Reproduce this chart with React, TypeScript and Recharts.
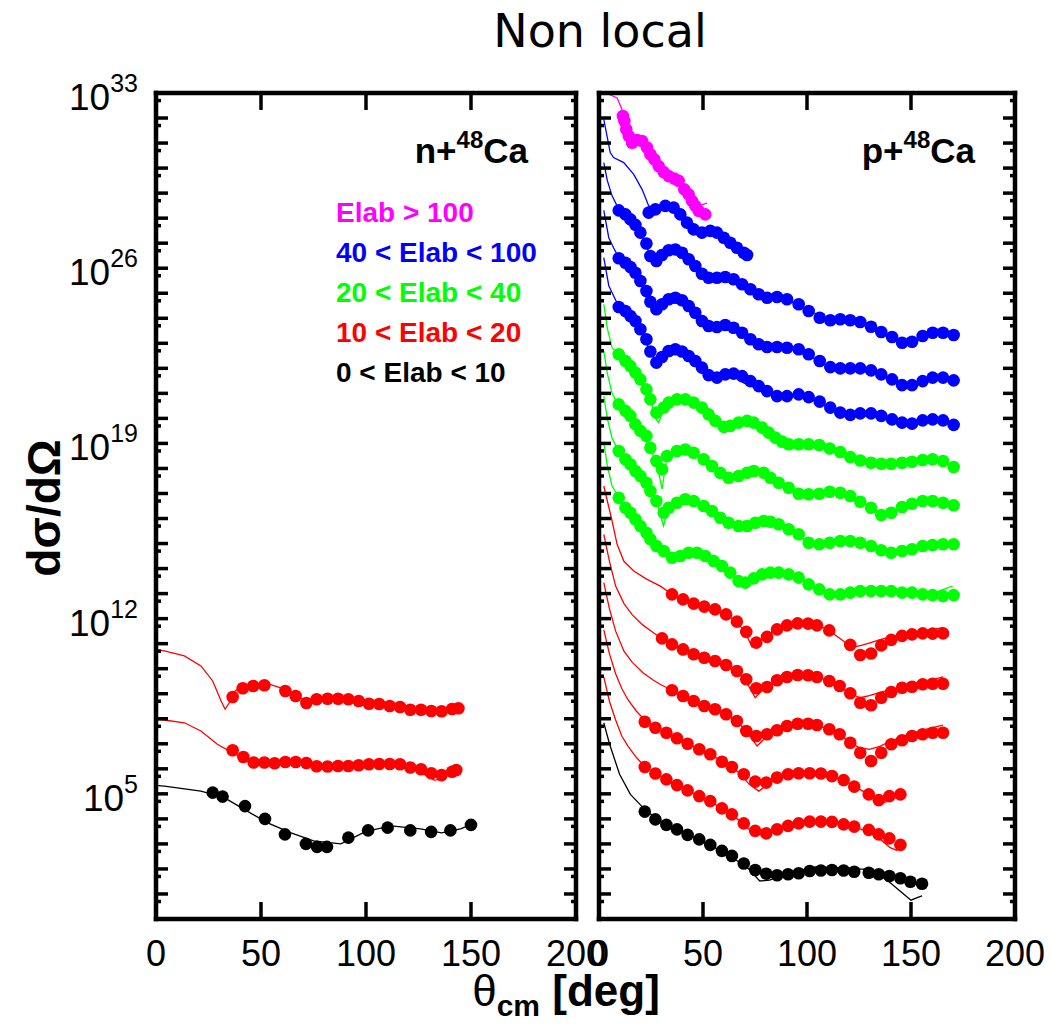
import { ComposedChart, Line, Scatter, XAxis, YAxis } from 'recharts'

const MAGENTA = '#ff00ff'
const BLUE = '#0000ff'
const GREEN = '#00ff00'
const RED = '#ff0000'
const BLACK = '#000000'

const SANS = '"Liberation Sans", Arial, sans-serif'

// values are read as exponents (log10 of dσ/dΩ); angles in degrees
// theory curves are [angle, exponent] pairs

// ---- n+48Ca ----
const nRedHiDeg = [36.5, 41.3, 46.3, 51.6, 61.6, 66.5, 71.6, 76.5, 81.7, 86.7, 91.6, 96.5, 101.4, 106.3, 111.3, 116.2, 121.1, 126.2, 131.1, 136, 141, 144]
const nRedHiExp = [8.87, 9.22, 9.31, 9.34, 9.11, 8.91, 8.63, 8.78, 8.8, 8.8, 8.78, 8.71, 8.6, 8.59, 8.51, 8.47, 8.36, 8.36, 8.31, 8.3, 8.39, 8.42]
const nRedHiCurve = [[1, 10.75], [4, 10.71], [13.5, 10.51], [21.4, 10.11], [27, 9.51], [31, 8.71], [32.9, 8.38], [34.9, 8.64], [36.5, 9.04], [41.3, 9.31], [51.6, 9.44], [61.3, 9.18], [66.5, 8.95], [71.6, 8.7], [76.5, 8.76], [86.7, 8.79], [96.5, 8.7], [106.3, 8.58], [116.2, 8.46], [126.2, 8.36], [136, 8.3], [144, 8.42]]

const nRedLoDeg = [36.5, 41.6, 46.5, 51.6, 56.5, 61.6, 66.5, 71.6, 76.5, 81.7, 86.7, 91.6, 96.5, 101.4, 106.3, 111.3, 116.2, 121.1, 126.2, 131.1, 136, 141, 143]
const nRedLoExp = [6.74, 6.47, 6.25, 6.25, 6.22, 6.27, 6.27, 6.23, 6.1, 6.09, 6.11, 6.11, 6.14, 6.18, 6.19, 6.19, 6.18, 6.05, 5.98, 5.82, 5.75, 5.88, 5.95]
const nRedLoCurve = [[1, 7.97], [4, 7.95], [13.5, 7.84], [21.4, 7.51], [29.2, 6.98], [36.5, 6.64], [42, 6.42], [46.5, 6.33], [56.5, 6.3], [66.5, 6.28], [76.5, 6.15], [91.6, 6.12], [106.3, 6.18], [116.2, 6.15], [121.1, 6.02], [126.2, 5.85], [132.5, 5.55], [135.7, 5.58], [141, 5.85], [143, 5.95]]

const nBlackDeg = [27, 31.7, 42.4, 51.9, 61.4, 71.4, 76.7, 81.4, 91.6, 101, 110.3, 121.1, 131, 140.2, 150]
const nBlackExp = [5.05, 4.89, 4.51, 4.0, 3.38, 3.0, 2.88, 2.88, 3.25, 3.54, 3.65, 3.54, 3.48, 3.54, 3.76]
const nBlackCurve = [[1, 5.33], [4, 5.31], [21.4, 5.11], [32.5, 4.85], [42, 4.38], [52.9, 3.85], [64, 3.45], [75, 3.12], [88, 3.0], [100, 3.5], [112, 3.72], [126, 3.6], [136, 3.44], [145, 3.6], [152, 3.84]]

// ---- p+48Ca ----
const pMagDeg = [11.5, 12.2, 13.1, 14.3, 15.9, 18.3, 20.7, 23.1, 24.7, 26.6, 28.7, 31.1, 33.5, 36.2, 38.3, 41, 43.1, 44.7, 46.3, 47.9, 51.1]
const pMagExp = [32.08, 31.88, 31.55, 31.28, 31.01, 31.12, 31.08, 30.82, 30.55, 30.35, 30.08, 29.84, 29.68, 29.58, 29.49, 29.15, 28.95, 28.69, 28.49, 28.29, 28.15]
const pMagCurve = [[4.7, 32.95], [8.7, 32.8], [11, 32.35], [13, 31.6], [16, 31.05], [20, 31.1], [24, 30.6], [28, 30.15], [32, 29.8], [36, 29.6], [40, 29.2], [44, 28.8], [48, 28.5], [52, 28.6]]

const pB1Deg = [23.9, 27.1, 31.9, 35.9, 39.1, 42.3, 45.5, 49.5, 53.5, 56.7, 60, 63.1, 66.3, 69.6, 71.2]
const pB1Exp = [28.22, 28.35, 28.49, 28.42, 28.15, 27.82, 27.55, 27.42, 27.49, 27.42, 27.22, 27.02, 26.82, 26.62, 26.53]
const pB1Curve = [[2.3, 31.95], [5.4, 30.62], [7, 30.42], [11.9, 30.22], [16.7, 29.75], [20.7, 29.15], [23.9, 28.49], [27, 28.4], [32, 28.5], [36, 28.4], [40, 28.1], [45, 27.6], [50, 27.45], [54, 27.5], [58, 27.35], [62, 27.15], [66, 26.95], [71, 26.65]]

const pBlueDeg = [9.5, 12.7, 15.1, 17.5, 19.9, 22.8, 24.7, 27.6, 30.3, 33.5, 36.7, 39.9, 43.1, 46.3, 49.5, 52.7, 56.7, 60.7, 64.7, 68.8, 72.8, 76.8, 80.8, 85.6, 90.4, 96, 100.8, 106.1, 111.2, 116, 120.8, 125.6, 130.8, 135.7, 140.9, 145.7, 150.5, 155.6, 160.4, 165.4, 170.5]
const pB2Exp = [28.31, 28.15, 27.95, 27.73, 27.42, 26.99, 26.49, 26.29, 26.53, 26.72, 26.75, 26.62, 26.36, 26.09, 25.78, 25.62, 25.62, 25.65, 25.56, 25.36, 25.16, 24.96, 24.82, 24.85, 24.76, 24.56, 24.29, 24.02, 23.92, 23.96, 23.92, 23.85, 23.66, 23.45, 23.25, 23.02, 23.06, 23.29, 23.42, 23.42, 23.33]
const pB3Exp = [26.4, 26.22, 26.05, 25.82, 25.49, 25.09, 24.66, 24.36, 24.56, 24.76, 24.82, 24.72, 24.49, 24.22, 23.89, 23.69, 23.65, 23.73, 23.62, 23.42, 23.16, 22.96, 22.85, 22.85, 22.82, 22.76, 22.56, 22.29, 22.05, 22.0, 22.0, 22.0, 21.92, 21.76, 21.56, 21.33, 21.33, 21.49, 21.63, 21.63, 21.52]
const pB4Exp = [24.45, 24.29, 24.09, 23.89, 23.56, 23.16, 22.67, 22.23, 22.45, 22.69, 22.76, 22.67, 22.49, 22.29, 22.03, 21.73, 21.63, 21.76, 21.79, 21.69, 21.49, 21.29, 21.09, 20.89, 20.89, 20.96, 20.85, 20.67, 20.43, 20.23, 20.14, 20.2, 20.2, 20.1, 19.96, 19.83, 19.79, 19.92, 19.96, 19.92, 19.74]
const pB2Curve = [[2.3, 30.22], [4, 29.5], [6.3, 28.89], [9.5, 28.35], [15, 27.95], [20, 27.4], [24.7, 26.5], [27.2, 26.2], [30, 26.5], [35, 26.75], [40, 26.62], [45, 26.2], [50, 25.75], [55, 25.62], [60, 25.65], [65, 25.55], [70, 25.3], [80, 24.85], [90, 24.75], [100, 24.35], [110, 23.95], [120, 23.92], [130, 23.7], [140, 23.3], [148, 23.0], [152, 23.05], [160, 23.4], [170, 23.35]]
const pB3Curve = [[2.3, 28.31], [4.7, 27.22], [7, 26.82], [9.5, 26.42], [15, 26.05], [20, 25.45], [24.7, 24.6], [27.5, 24.3], [30, 24.5], [35, 24.78], [40, 24.72], [45, 24.3], [50, 23.85], [55, 23.65], [60, 23.72], [65, 23.6], [70, 23.35], [80, 22.88], [90, 22.82], [100, 22.55], [110, 22.1], [120, 22.02], [130, 21.95], [140, 21.6], [148, 21.35], [152, 21.4], [160, 21.62], [170, 21.55]]
const pB4Curve = [[2.3, 26.42], [4.7, 25.3], [7, 24.9], [9.5, 24.47], [15, 24.1], [20, 23.5], [24.7, 22.65], [27.5, 22.3], [30, 22.5], [35, 22.75], [40, 22.65], [45, 22.3], [50, 21.95], [55, 21.7], [60, 21.72], [65, 21.65], [70, 21.4], [80, 21.05], [90, 20.9], [100, 20.85], [110, 20.45], [120, 20.17], [130, 20.15], [140, 19.92], [148, 19.8], [152, 19.82], [160, 19.95], [170, 19.78]]

const pG1Deg = [9.5, 12.7, 15.1, 17.5, 19.9, 22.8, 24.7, 27.6, 31.1, 33.5, 37.5, 41.5, 45.5, 49.5, 52.7, 55.9, 60, 63.1, 67.1, 71.2, 74.4, 78.4, 81.6, 84.8, 88, 91.2, 96, 100.8, 105.9, 110.9, 116, 120.8, 125.6, 130.8, 135.7, 140.5, 145.7, 150.5, 155.6, 160.4, 165.4, 170.5]
const pG1Exp = [22.56, 22.29, 22.09, 21.83, 21.56, 21.16, 20.76, 20.23, 20.43, 20.63, 20.76, 20.76, 20.63, 20.43, 20.16, 19.9, 19.66, 19.7, 19.83, 19.9, 19.83, 19.63, 19.43, 19.23, 19.07, 18.97, 18.97, 18.97, 18.94, 18.8, 18.66, 18.46, 18.32, 18.23, 18.19, 18.19, 18.23, 18.27, 18.34, 18.37, 18.3, 18.06]
const pG1Curve = [[2.3, 24.56], [4, 23.6], [6.3, 22.83], [9.5, 22.5], [15, 22.05], [20, 21.5], [24.7, 20.75], [27.2, 20.0], [28.7, 19.83], [31, 20.35], [35, 20.7], [40, 20.78], [45, 20.65], [50, 20.4], [55, 19.95], [60, 19.68], [65, 19.75], [70, 19.9], [75, 19.8], [80, 19.5], [85, 19.2], [90, 19.0], [100, 18.98], [110, 18.82], [120, 18.5], [130, 18.25], [140, 18.2], [150, 18.3], [160, 18.38], [170, 18.1]]

const pG2Deg = [9.5, 12.7, 15.1, 17.5, 19.9, 22.8, 24.7, 27.6, 30.3, 32.7, 37.5, 41.5, 45.5, 50.3, 54.3, 58.3, 62.3, 67.1, 71.2, 74.4, 79.2, 82.4, 86.4, 91.2, 96, 100.8, 105.9, 110.9, 116, 120.8, 125.6, 130.8, 135.7, 140.5, 145.7, 150.5, 155.6, 160.4, 165.4, 170.5]
const pG2Exp = [20.56, 20.3, 20.1, 19.76, 19.5, 19.3, 18.83, 18.3, 17.97, 18.5, 18.7, 18.76, 18.63, 18.37, 18.1, 17.83, 17.63, 17.7, 17.83, 17.9, 17.83, 17.63, 17.43, 17.23, 16.99, 16.97, 16.99, 17.07, 17.03, 16.9, 16.67, 16.43, 16.14, 16.23, 16.46, 16.59, 16.7, 16.7, 16.63, 16.53]
const pG2Curve = [[2.3, 22.69], [4, 21.8], [6.3, 21.0], [9.5, 20.5], [15, 20.05], [20, 19.45], [24.7, 18.8], [28, 18.1], [30.3, 17.17], [32.5, 18.4], [37, 18.75], [42, 18.82], [46, 18.65], [50, 18.4], [55, 18.05], [60, 17.75], [65, 17.68], [70, 17.82], [75, 17.9], [80, 17.8], [85, 17.5], [90, 17.25], [96, 17.02], [105, 17.02], [115, 17.02], [120, 16.92], [125, 16.75], [132, 16.35], [136, 16.25], [140, 16.3], [146, 16.5], [155, 16.7], [165, 16.63], [170, 16.55]]

const pG3Deg = [9.5, 12.7, 15.1, 17.5, 19.9, 22.8, 24.7, 27.6, 31.1, 33.5, 37.5, 41.5, 45.5, 50.3, 54.3, 58.3, 62.3, 67.1, 71.2, 75.2, 79.2, 82.4, 86.4, 91.2, 96, 100.8, 105.9, 110.9, 116, 120.8, 125.6, 130.8, 135.7, 140.5, 145.7, 150.5, 155.6, 160.4, 165.4, 170.5]
const pG3Exp = [18.7, 18.37, 18.17, 17.9, 17.7, 17.43, 17.1, 16.7, 16.23, 16.43, 16.63, 16.77, 16.7, 16.5, 16.3, 16.03, 15.83, 15.7, 15.7, 15.83, 15.9, 15.87, 15.77, 15.57, 15.37, 15.03, 14.97, 15.03, 15.1, 15.1, 15.03, 14.9, 14.73, 14.63, 14.7, 14.77, 14.9, 14.94, 14.97, 14.97]
const pG3Curve = [[2.3, 20.89], [4, 20.0], [6.3, 19.2], [9.5, 18.7], [15, 18.15], [20, 17.65], [24.7, 17.05], [28, 16.6], [31, 15.7], [33.5, 16.45], [37.5, 16.68], [41.5, 16.8], [46, 16.7], [50, 16.52], [55, 16.25], [60, 15.95], [65, 15.75], [70, 15.72], [75, 15.85], [80, 15.9], [85, 15.8], [90, 15.6], [96, 15.3], [100, 15.1], [106, 15.0], [116, 15.12], [125, 15.05], [135, 14.85], [140, 14.75], [150, 14.8], [160, 14.92], [170, 15.0]]

const pG4Deg = [9.5, 12.7, 15.1, 17.5, 19.9, 22.8, 24.7, 27.6, 31.1, 35.1, 39.1, 43.1, 47.1, 51.1, 55.1, 59.1, 63.1, 67.1, 70.3, 74.4, 78.4, 82.4, 86.4, 91.2, 96, 100.8, 105.9, 110.9, 116, 120.8, 125.6, 130.8, 135.7, 140.5, 145.7, 150.5, 155.6, 160.4, 165.4, 170.5]
const pG4Exp = [16.83, 16.43, 16.23, 15.97, 15.7, 15.43, 15.17, 14.9, 14.7, 14.43, 14.5, 14.63, 14.63, 14.5, 14.3, 14.1, 13.84, 13.5, 13.44, 13.61, 13.77, 13.84, 13.84, 13.77, 13.64, 13.37, 13.17, 12.97, 12.97, 13.04, 13.1, 13.1, 13.1, 13.1, 13.04, 13.04, 12.97, 12.94, 12.9, 12.94]
const pG4Curve = [[2.3, 19.03], [4, 18.1], [6.3, 17.3], [9.5, 16.85], [15, 16.25], [20, 15.7], [25, 15.15], [31, 14.72], [35, 14.48], [40, 14.52], [44, 14.65], [48, 14.62], [52, 14.48], [56, 14.28], [60, 14.05], [64, 13.8], [68, 13.5], [71, 13.45], [75, 13.62], [80, 13.8], [86, 13.85], [92, 13.77], [97, 13.6], [102, 13.35], [108, 13.12], [113, 13.05], [120, 13.15], [130, 13.25], [140, 13.22], [150, 13.1], [160, 13.0], [170, 13.3]]

const pR1Deg = [35.1, 40.4, 45.5, 50.6, 55.8, 61.1, 66.3, 70.8, 75.6, 80.8, 85.6, 90.4, 95.5, 100.5, 104.8, 110.7, 120.8, 125.6, 130.8, 135.7, 140.5, 145.7, 150.5, 155.6, 160.4, 165.4]
const pR1Exp = [12.97, 12.77, 12.6, 12.48, 12.37, 12.17, 11.88, 11.47, 11.04, 11.27, 11.57, 11.73, 11.81, 11.8, 11.73, 11.53, 10.95, 10.55, 10.61, 10.93, 11.15, 11.31, 11.37, 11.41, 11.4, 11.41]
const pR1Curve = [[2.3, 17.3], [6.3, 15.9], [8.7, 14.97], [11.9, 14.3], [16.7, 13.9], [23.1, 13.57], [29.5, 13.3], [35, 12.98], [40, 12.78], [45, 12.62], [50, 12.5], [55, 12.38], [60, 12.2], [65, 11.95], [70, 11.5], [73.6, 10.87], [77, 11.1], [81, 11.35], [86, 11.6], [91, 11.75], [96, 11.83], [101, 11.82], [106, 11.72], [111, 11.5], [116, 11.2], [120, 10.95], [123, 10.87], [127, 10.95], [131, 11.05], [136, 11.18], [141, 11.28], [146, 11.37], [151, 11.45], [156, 11.52], [161, 11.58], [165.4, 11.64]]

const pR2Deg = [30.3, 35.1, 40.4, 45.5, 50.6, 55.8, 61.1, 66.3, 70.8, 75.6, 80.8, 85.6, 90.4, 95.5, 100.5, 104.8, 110.7, 115.7, 120.8, 125.6, 130.8, 135.7, 140.5, 145.7, 150.5, 155.6, 160.4, 165.4]
const pR2Exp = [11.21, 10.97, 10.77, 10.58, 10.44, 10.31, 10.15, 9.91, 9.58, 9.22, 9.27, 9.54, 9.67, 9.75, 9.74, 9.67, 9.51, 9.31, 9.02, 8.64, 8.54, 8.84, 9.07, 9.24, 9.28, 9.38, 9.4, 9.4]
const pR2Curve = [[2.3, 15.37], [5, 14.3], [8, 13.3], [12, 12.6], [16, 12.15], [21, 11.75], [26, 11.45], [30.3, 11.2], [35, 10.98], [40, 10.78], [45, 10.6], [50, 10.46], [55, 10.32], [60, 10.18], [65, 9.97], [70, 9.6], [75.1, 8.84], [78, 9.1], [82, 9.35], [86, 9.55], [91, 9.68], [96, 9.75], [101, 9.74], [106, 9.65], [111, 9.48], [116, 9.25], [121, 9.0], [125.6, 8.84], [130, 8.92], [135, 9.05], [140, 9.15], [146, 9.28], [152, 9.4], [158, 9.5], [165.4, 9.67]]

const pR3Deg = [35.1, 40.4, 45.5, 50.6, 55.8, 61.1, 66.3, 70.8, 75.6, 80.8, 85.6, 90.4, 95.5, 100.5, 104.8, 110.7, 115.7, 120.8, 125.6, 130.8, 135.7, 140.5, 145.7, 150.5, 155.6, 160.4, 165.4]
const pR3Exp = [9.14, 8.91, 8.71, 8.51, 8.38, 8.18, 7.91, 7.51, 7.31, 7.38, 7.54, 7.71, 7.8, 7.8, 7.75, 7.58, 7.38, 7.04, 6.64, 6.31, 6.64, 6.98, 7.14, 7.31, 7.38, 7.44, 7.44]
const pR3Curve = [[2.3, 13.44], [5, 12.4], [8, 11.5], [12, 10.7], [16, 10.25], [21, 9.85], [26, 9.55], [30, 9.35], [35, 9.15], [40, 8.93], [45, 8.73], [50, 8.53], [55, 8.4], [60, 8.22], [65, 7.98], [70, 7.6], [76, 6.91], [80, 7.25], [85, 7.5], [90, 7.7], [95, 7.8], [100, 7.8], [105, 7.73], [110, 7.6], [115, 7.4], [120, 7.1], [125, 6.85], [130, 6.78], [135, 6.9], [140, 7.1], [146, 7.3], [152, 7.45], [158, 7.6], [165.4, 7.75]]

const pLowDeg = [22, 27.1, 32.4, 37.5, 42.6, 48.2, 53.5, 59.1, 63.9, 69.6, 75.1, 80.4, 85.6, 90.9, 96, 101.3, 106.7, 112, 117.6, 122.7, 129.7, 134.5, 139.6, 144.9, 149.7, 155.3]
const pR4Exp = [7.88, 7.64, 7.44, 7.22, 7.0, 6.78, 6.58, 6.28, 6.07, 5.78, 5.49, 5.45, 5.65, 5.78, 5.82, 5.82, 5.81, 5.71, 5.55, 5.29, 4.98, 4.75, 4.91, 4.98]
const pR4Curve = [[2.3, 11.55], [5, 10.6], [8, 9.8], [11, 9.2], [14, 8.75], [18, 8.3], [22, 7.95], [27, 7.65], [32, 7.45], [37, 7.23], [42, 7.02], [48, 6.8], [53, 6.6], [58, 6.35], [63, 6.1], [68, 5.8], [72, 5.4], [76.8, 5.11], [80, 5.3], [85, 5.6], [90, 5.75], [96, 5.83], [101, 5.83], [107, 5.8], [112, 5.7], [117, 5.55], [122, 5.35], [127, 5.1], [133, 4.8], [137, 4.65], [141, 4.78], [145, 4.95]]
const pR5Exp = [6.07, 5.81, 5.58, 5.35, 5.14, 4.91, 4.71, 4.42, 4.18, 3.82, 3.52, 3.42, 3.58, 3.72, 3.82, 3.89, 3.89, 3.88, 3.78, 3.69, 3.56, 3.38, 3.22, 2.96]
const pR5Curve = [[2.3, 9.67], [5, 8.7], [8, 7.95], [11, 7.3], [14, 6.9], [18, 6.45], [22, 6.1], [27, 5.83], [32, 5.6], [37, 5.37], [42, 5.16], [48, 4.93], [53, 4.72], [58, 4.47], [63, 4.22], [68, 3.9], [72, 3.6], [77, 3.4], [82, 3.5], [87, 3.65], [92, 3.78], [98, 3.88], [105, 3.92], [112, 3.9], [118, 3.8], [124, 3.65], [130, 3.45], [135, 3.2], [140, 2.85], [143, 2.75], [145, 2.9]]
const pBlackExp = [4.29, 3.98, 3.76, 3.58, 3.36, 3.18, 2.96, 2.72, 2.52, 2.22, 1.96, 1.81, 1.75, 1.79, 1.83, 1.92, 1.94, 1.96, 1.94, 1.89, 1.85, 1.79, 1.72, 1.63, 1.49, 1.41]
const pBlackCurve = [[2.3, 7.84], [5.1, 6.98], [9.9, 5.78], [15.1, 4.98], [22, 4.38], [27, 4.05], [32, 3.8], [38, 3.58], [43, 3.37], [48, 3.17], [54, 2.93], [60, 2.65], [66, 2.35], [72, 2.0], [77.3, 1.52], [82, 1.55], [85.6, 1.65], [95, 1.9], [104, 2.08], [115, 2.05], [128, 1.98], [134, 1.8], [139, 1.52], [145, 1.1], [150, 0.75], [153, 0.85], [155.3, 0.92]]

const legendItems = [
  { label: 'Elab > 100', color: MAGENTA },
  { label: '40 < Elab < 100', color: BLUE },
  { label: '20 < Elab < 40', color: GREEN },
  { label: '10 < Elab < 20', color: RED },
  { label: '0 < Elab < 10', color: BLACK },
]

const xTickVals = [0, 50, 100, 150, 200]
const innerXTicks = [50, 100, 150]
const labeledExp = [5, 12, 19, 26, 33]
const decades = Array.from({ length: 34 }, (_, i) => i)
const yTickVals = [...decades.map(n => 10 ** n), ...decades.slice(0, 33).map(n => 5 * 10 ** n)]

type Series = { deg: number[]; exp: number[]; curve: number[][]; color: string }

const toPts = (deg: number[], exp: number[]) => exp.map((e, i) => ({ x: deg[i], y: 10 ** e }))
const toCurve = (c: number[][]) => c.map(([d, e]) => ({ x: d, y: 10 ** e }))

const nSeries: Series[] = [
  { deg: nRedHiDeg, exp: nRedHiExp, curve: nRedHiCurve, color: RED },
  { deg: nRedLoDeg, exp: nRedLoExp, curve: nRedLoCurve, color: RED },
  { deg: nBlackDeg, exp: nBlackExp, curve: nBlackCurve, color: BLACK },
]

const pSeries: Series[] = [
  { deg: pMagDeg, exp: pMagExp, curve: pMagCurve, color: MAGENTA },
  { deg: pB1Deg, exp: pB1Exp, curve: pB1Curve, color: BLUE },
  { deg: pBlueDeg, exp: pB2Exp, curve: pB2Curve, color: BLUE },
  { deg: pBlueDeg, exp: pB3Exp, curve: pB3Curve, color: BLUE },
  { deg: pBlueDeg, exp: pB4Exp, curve: pB4Curve, color: BLUE },
  { deg: pG1Deg, exp: pG1Exp, curve: pG1Curve, color: GREEN },
  { deg: pG2Deg, exp: pG2Exp, curve: pG2Curve, color: GREEN },
  { deg: pG3Deg, exp: pG3Exp, curve: pG3Curve, color: GREEN },
  { deg: pG4Deg, exp: pG4Exp, curve: pG4Curve, color: GREEN },
  { deg: pR1Deg, exp: pR1Exp, curve: pR1Curve, color: RED },
  { deg: pR2Deg, exp: pR2Exp, curve: pR2Curve, color: RED },
  { deg: pR3Deg, exp: pR3Exp, curve: pR3Curve, color: RED },
  { deg: pLowDeg, exp: pR4Exp, curve: pR4Curve, color: RED },
  { deg: pLowDeg, exp: pR5Exp, curve: pR5Curve, color: RED },
  { deg: pLowDeg, exp: pBlackExp, curve: pBlackCurve, color: BLACK },
]

const frame = { stroke: '#000', strokeWidth: 4.5, strokeLinecap: 'square' as const }

const yTick = (side: 'left' | 'right', labels: boolean) => (props: any) => {
  const { x, y, payload } = props
  const e = Math.log10(payload.value)
  const n = Math.round(e)
  const major = Math.abs(e - n) < 0.01
  const dir = side === 'left' ? 1 : -1
  return (
    <g>
      <line x1={x} x2={x + dir * (major ? 12 : 5)} y1={y} y2={y} stroke="#000" strokeWidth={3.5} />
      {labels && major && labeledExp.includes(n) && (
        <text x={x - 18} y={y + 17} textAnchor="end" fontFamily={SANS} fontSize={37} fill="#000">
          10<tspan dy={-18} fontSize={25}>{n}</tspan>
        </text>
      )}
    </g>
  )
}

const xTick = (side: 'top' | 'bottom') => (props: any) => {
  const { x, y, payload } = props
  const v = payload.value
  const dir = side === 'bottom' ? -1 : 1
  return (
    <g>
      {innerXTicks.includes(v) && <line x1={x} x2={x} y1={y} y2={y + dir * 17} stroke="#000" strokeWidth={3.5} />}
      {side === 'bottom' && (
        <text x={x} y={y + 47} textAnchor="middle" fontFamily={SANS} fontSize={36} fill="#000">{v}</text>
      )}
    </g>
  )
}

const dot = (color: string) => (p: any) => <circle cx={p.cx} cy={p.cy} r={6.3} fill={color} />

function Panel({ series, left, width, yAxisWidth, rightWidth, labels }: { series: Series[]; left: number; width: number; yAxisWidth: number; rightWidth: number; labels: boolean }) {
  return (
    <div style={{ position: 'absolute', left, top: 0 }}>
      <ComposedChart width={width} height={1024} margin={{ top: 83, right: 0, bottom: 0, left: 0 }}>
        <XAxis xAxisId="b" type="number" dataKey="x" domain={[0, 200]} ticks={xTickVals} interval={0} allowDataOverflow
          tickSize={0} tickMargin={0} axisLine={frame} tick={xTick('bottom')} height={105} />
        <XAxis xAxisId="t" orientation="top" type="number" dataKey="x" domain={[0, 200]} ticks={innerXTicks} interval={0} allowDataOverflow
          tickSize={0} tickMargin={0} axisLine={frame} tick={xTick('top')} height={10} />
        <YAxis yAxisId="l" type="number" dataKey="y" scale="log" domain={[1, 1e33]} ticks={yTickVals} interval={0} allowDataOverflow
          tickSize={0} tickMargin={0} axisLine={frame} tick={yTick('left', labels)} width={yAxisWidth} />
        <YAxis yAxisId="r" orientation="right" type="number" dataKey="y" scale="log" domain={[1, 1e33]} ticks={yTickVals} interval={0} allowDataOverflow
          tickSize={0} tickMargin={0} axisLine={frame} tick={yTick('right', false)} width={rightWidth} />
        {series.map((s, i) => (
          <Line key={'c' + i} xAxisId="b" yAxisId="l" data={toCurve(s.curve)} dataKey="y" type="linear" stroke={s.color}
            strokeWidth={1.3} dot={false} activeDot={false} isAnimationActive={false} />
        ))}
        {series.map((s, i) => (
          <Scatter key={'p' + i} xAxisId="b" yAxisId="l" data={toPts(s.deg, s.exp)} fill={s.color}
            shape={dot(s.color)} isAnimationActive={false} />
        ))}
        <Scatter xAxisId="t" yAxisId="r" data={[]} isAnimationActive={false} />
      </ComposedChart>
    </div>
  )
}

export default function App() {
  return (
    <div style={{ position: 'absolute', left: 0, top: 0, width: 1051, height: 1024, background: '#fff' }}>
      <Panel series={nSeries} left={0} width={620} yAxisWidth={156} rightWidth={44} labels />
      <Panel series={pSeries} left={580} width={471} yAxisWidth={19} rightWidth={36} labels={false} />
      <svg width={1051} height={1024} style={{ position: 'absolute', left: 0, top: 0, pointerEvents: 'none' }}>
        <text x={600} y={47} textAnchor="middle" fontFamily='"DejaVu Sans", sans-serif' fontSize={46} fill="#000">Non local</text>
        <text x={0} y={0} transform="translate(60 508) rotate(-90)" textAnchor="middle" fontFamily={SANS} fontWeight="bold" fontSize={46} fill="#000">dσ/dΩ</text>
        <text x={566} y={1006} textAnchor="middle" fontFamily={SANS} fontWeight="bold" fontSize={44} fill="#000">
          <tspan fontWeight="normal">θ</tspan><tspan fontSize={30} dy={10}>cm</tspan><tspan dy={-10}> [deg]</tspan>
        </text>
        <text x={528} y={163} textAnchor="end" fontFamily={SANS} fontWeight="bold" fontSize={35} fill="#000">
          n+<tspan fontSize={24} dy={-15}>48</tspan><tspan dy={15}>Ca</tspan>
        </text>
        <text x={975} y={163} textAnchor="end" fontFamily={SANS} fontWeight="bold" fontSize={35} fill="#000">
          p+<tspan fontSize={24} dy={-15}>48</tspan><tspan dy={15}>Ca</tspan>
        </text>
        {legendItems.map((it, i) => (
          <text key={it.label} x={336} y={222 + i * 40} fontFamily={SANS} fontWeight="bold" fontSize={28} fill={it.color}>{it.label}</text>
        ))}
      </svg>
    </div>
  )
}
